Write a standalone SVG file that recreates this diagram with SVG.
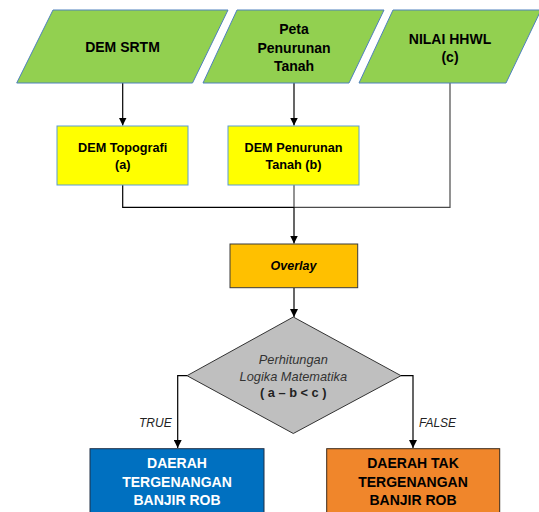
<svg xmlns="http://www.w3.org/2000/svg" width="539" height="512" viewBox="0 0 539 512">
<style>
.t{font-family:"Liberation Sans",Arial,sans-serif;text-anchor:middle;font-weight:bold;fill:#000}
.green{fill:#92D050;stroke:#4F81BD;stroke-width:1}
.yellow{fill:#FFFF00;stroke:#5B9BD5;stroke-width:1}
.ln{fill:none;stroke:#000;stroke-width:1.2}
.gl{fill:none;stroke:#4a4a4a;stroke-width:1.2}
.lbl{font-family:"Liberation Sans",Arial,sans-serif;font-style:italic;font-size:12px;fill:#222}
</style>
<defs>
<marker id="ah" viewBox="0 0 10 10" refX="10" refY="5" markerWidth="8" markerHeight="8" markerUnits="userSpaceOnUse" orient="auto">
<path d="M0,0 L10,5 L0,10 z" fill="#000"/>
</marker>
</defs>
<rect width="539" height="512" fill="#fff"/>
<g id="connectors">
<path class="ln" d="M122.7,83 V125.5" marker-end="url(#ah)"/>
<path class="ln" d="M294,83 V125.5" marker-end="url(#ah)"/>
<path class="gl" d="M450,83 V207.3 H294"/>
<path class="ln" d="M122.7,185 V207.3 H294"/>
<path class="gl" d="M294,185 V207.3"/>
<path class="ln" d="M294,207.3 V243.5" marker-end="url(#ah)"/>
<path class="ln" d="M294,288 V317" marker-end="url(#ah)"/>
<path class="ln" d="M187,375.7 H177.7 V448" marker-end="url(#ah)"/>
<path class="ln" d="M401,375.7 H413 V448" marker-end="url(#ah)"/>
<text class="lbl" x="139" y="427">TRUE</text>
<text class="lbl" x="419" y="427">FALSE</text>
</g>
<g id="dem-srtm">
<polygon class="green" points="53,10 228,10 192.5,83 16.7,83"/>
<text class="t" font-size="14" x="122.5" y="52">DEM SRTM</text>
</g>
<g id="peta-penurunan">
<polygon class="green" points="237,10 384,10 349,83 203,83"/>
<text class="t" font-size="14" x="294" y="34">Peta</text>
<text class="t" font-size="14" x="294" y="52.5">Penurunan</text>
<text class="t" font-size="14" x="294" y="71">Tanah</text>
</g>
<g id="nilai-hhwl">
<polygon class="green" points="393,10 541,10 506,83 359,83"/>
<text class="t" font-size="14" x="450" y="43.5">NILAI HHWL</text>
<text class="t" font-size="14" x="450" y="61.5">(c)</text>
</g>
<g id="dem-topografi">
<rect class="yellow" x="57" y="126" width="131" height="59"/>
<text class="t" font-size="12.7" x="122.7" y="152">DEM Topografi</text>
<text class="t" font-size="12.7" x="122.7" y="169">(a)</text>
</g>
<g id="dem-penurunan">
<rect class="yellow" x="228" y="126" width="131" height="59"/>
<text class="t" font-size="12.7" x="293.5" y="152">DEM Penurunan</text>
<text class="t" font-size="12.7" x="293.5" y="169">Tanah (b)</text>
</g>
<g id="overlay">
<rect x="230" y="244" width="127.7" height="43.7" fill="#FFC000" stroke="#3a3a3a" stroke-width="1"/>
<text class="t" font-size="12.5" font-style="italic" x="293.5" y="269.5">Overlay</text>
</g>
<g id="perhitungan">
<polygon points="293.3,317 401,375.7 293.3,433.5 187,375.7" fill="#BFBFBF" stroke="#333" stroke-width="1"/>
<text font-family="Liberation Sans, Arial, sans-serif" font-style="italic" font-size="12.8" fill="#333" text-anchor="middle" x="293.3" y="364">Perhitungan</text>
<text font-family="Liberation Sans, Arial, sans-serif" font-style="italic" font-size="12.8" fill="#333" text-anchor="middle" x="293.3" y="380.5">Logika Matematika</text>
<text class="t" font-size="12.8" style="fill:#222" x="293.3" y="396.5">( a – b &lt; c )</text>
</g>
<g id="daerah-tergenangan">
<rect x="90" y="448.7" width="174" height="72" fill="#0070C0" stroke="#1f2f45" stroke-width="1"/>
<text class="t" font-size="14" style="fill:#fff" x="177" y="468">DAERAH</text>
<text class="t" font-size="14" style="fill:#fff" x="177" y="486.5">TERGENANGAN</text>
<text class="t" font-size="14" style="fill:#fff" x="177" y="505">BANJIR ROB</text>
</g>
<g id="daerah-tak-tergenangan">
<rect x="326.7" y="448.7" width="173" height="72" fill="#F0862B" stroke="#3a2a1a" stroke-width="1"/>
<text class="t" font-size="14" x="413" y="468">DAERAH TAK</text>
<text class="t" font-size="14" x="413" y="486.5">TERGENANGAN</text>
<text class="t" font-size="14" x="413" y="505">BANJIR ROB</text>
</g>
</svg>
